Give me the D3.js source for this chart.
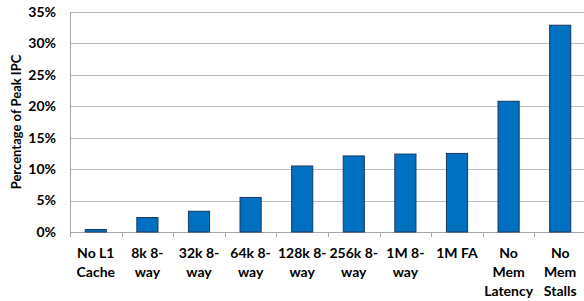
<!DOCTYPE html>
<html>
<head>
<meta charset="UTF-8" />
<style>
  body { margin: 0; padding: 0; background: #fff; }
  svg text { font-family: Lato, "Open Sans", sans-serif; font-weight: bold; fill: #000; }
</style>
<script src="https://d3js.org/d3.v7.min.js"></script>
</head>
<body>
<svg id="chart" width="584" height="301"></svg>
<script>
// data
const categories = [
  ["No L1", "Cache"], ["8k 8-", "way"], ["32k 8-", "way"], ["64k 8-", "way"],
  ["128k 8-", "way"], ["256k 8-", "way"], ["1M 8-", "way"], ["1M FA"],
  ["No", "Mem", "Latency"], ["No", "Mem", "Stalls"]
];
const values = [0.4, 2.3, 3.3, 5.5, 10.5, 12.1, 12.4, 12.5, 20.8, 32.9];
const yTicks = [0, 5, 10, 15, 20, 25, 30, 35];

const svg = d3.select("#chart");
const margin = {top: 12, right: -2, bottom: 69, left: 70};
const width = 584, height = 301;

const x = d3.scaleBand()
  .domain(d3.range(categories.length))
  .range([margin.left, width - margin.right])
  .paddingInner(0.59).paddingOuter(0.295);

const y = d3.scaleLinear()
  .domain([0, 35])
  .range([height - margin.bottom, margin.top]);

// gridlines
svg.append("g")
  .selectAll("line")
  .data(yTicks.slice(1))
  .join("line")
  .attr("x1", margin.left).attr("x2", width)
  .attr("y1", d => Math.round(y(d)) + 0.5).attr("y2", d => Math.round(y(d)) + 0.5)
  .attr("stroke", "#bdbdbd").attr("stroke-width", 1);

// y axis line
svg.append("line")
  .attr("x1", margin.left + 0.5).attr("x2", margin.left + 0.5)
  .attr("y1", y(35)).attr("y2", y(0) + 5)
  .attr("stroke", "#a6a6a6");

// y tick labels
svg.append("g")
  .selectAll("text")
  .data(yTicks)
  .join("text")
  .attr("x", 56).attr("y", d => y(d))
  .attr("dy", "0.35em")
  .attr("text-anchor", "end")
  .attr("font-size", 14)
  .text(d => d + "%");

// y axis title
svg.append("text")
  .attr("transform", `translate(21,${(y(0) + y(35)) / 2}) rotate(-90)`)
  .attr("text-anchor", "middle")
  .attr("font-size", 13)
  .text("Percentage of Peak IPC");

// x axis line and ticks between categories
svg.append("line")
  .attr("x1", margin.left).attr("x2", width)
  .attr("y1", Math.round(y(0)) + 0.5).attr("y2", Math.round(y(0)) + 0.5)
  .attr("stroke", "#a6a6a6");
const step = x.step();
svg.append("g")
  .selectAll("line")
  .data(d3.range(categories.length + 1))
  .join("line")
  .attr("x1", i => Math.round(margin.left + i * step) + 0.5)
  .attr("x2", i => Math.round(margin.left + i * step) + 0.5)
  .attr("y1", y(0)).attr("y2", y(0) + 5)
  .attr("stroke", "#a6a6a6");

// bars
svg.append("g")
  .selectAll("rect")
  .data(values)
  .join("rect")
  .attr("x", (d, i) => x(i))
  .attr("y", d => y(d))
  .attr("width", x.bandwidth())
  .attr("height", d => y(0) - y(d))
  .attr("fill", "#0070c0")
  .attr("stroke", "#1a3a5e")
  .attr("stroke-width", 1);

// x labels
const xl = svg.append("g")
  .selectAll("text")
  .data(categories)
  .join("text")
  .attr("text-anchor", "middle")
  .attr("font-size", 14)
  .attr("x", (d, i) => x(i) + x.bandwidth() / 2)
  .attr("y", 258);
xl.selectAll("tspan")
  .data(d => d)
  .join("tspan")
  .attr("x", function () { return this.parentNode.getAttribute("x"); })
  .attr("dy", (d, i) => i === 0 ? 0 : 19)
  .text(d => d);
</script>
</body>
</html>
